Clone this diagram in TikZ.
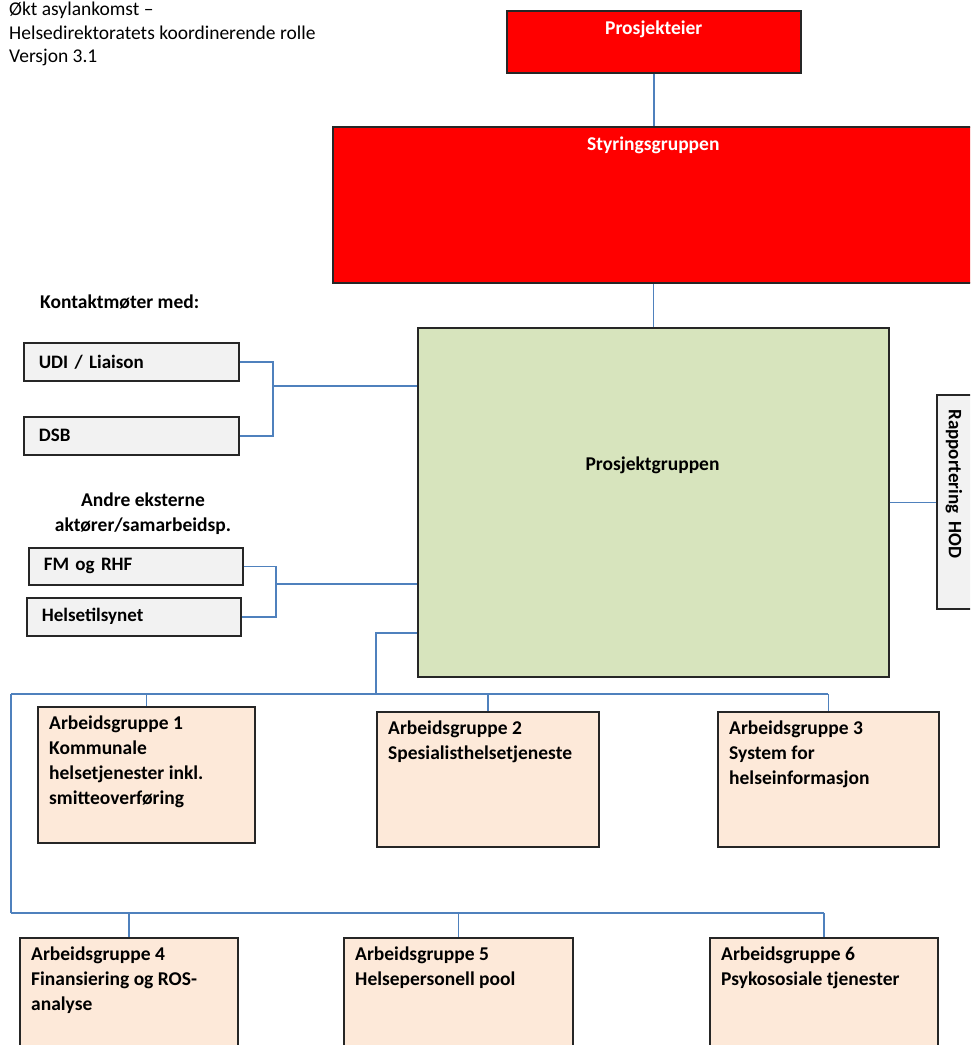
\documentclass[tikz,border=0pt]{standalone}
\usepackage{fontspec}
\setmainfont{Carlito}
\definecolor{ownerred}{HTML}{FF0000}
\definecolor{groupgreen}{HTML}{D7E4BD}
\definecolor{boxgray}{HTML}{F2F2F2}
\definecolor{agpeach}{HTML}{FDE9D9}
\definecolor{linkblue}{HTML}{4F81BD}
\tikzset{
    box/.style={rectangle, draw=black!85, line width=1.6pt, inner sep=0pt, anchor=north west},
    redbox/.style={box, fill=ownerred},
    greenbox/.style={box, fill=groupgreen},
    graybox/.style={box, fill=boxgray, align=left, inner xsep=15pt, font=\fontsize{19}{22}\selectfont\bfseries},
    agbox/.style={box, fill=agpeach},
    agtext/.style={anchor=north west, inner sep=0pt, align=left, xshift=12pt, yshift=-10pt, font=\fontsize{19.5}{24.8}\selectfont\bfseries},
    redtext/.style={anchor=north, inner sep=0pt, yshift=-11pt, text=white, font=\fontsize{19.5}{22}\selectfont\bfseries},
    link/.style={draw=linkblue, line width=1.4pt}
}
\begin{document}
\begin{tikzpicture}[x=1pt, y=-1pt]
    \useasboundingbox (0, 0) rectangle (970, 1045);
    \clip (0, 0) rectangle (970, 1045);

    % title
    \node [anchor=north west, inner sep=0pt, align=left, font=\fontsize{19.5}{23.5}\selectfont] at (9, 2) (title)
        {Økt asylankomst –\\Helsedirektoratets koordinerende rolle\\Versjon 3.1};

    % top of the project
    \node [redbox, minimum width=294, minimum height=62, label={[redtext]north:Prosjekteier}] at (506, 10) (pe) {};
    \node [redbox, minimum width=641, minimum height=156, label={[redtext]north:Styringsgruppen}] at (332, 126) (sg) {};
    \node [greenbox, minimum width=471, minimum height=349] at (417, 327) (pg) {};
    \node [font=\fontsize{19.5}{22}\selectfont\bfseries] at (652.5, 465) (pgtext) {Prosjektgruppen};

    % reporting
    \node [box, fill=boxgray, minimum width=40, minimum height=214] at (936, 394) (hod) {};
    \node [rotate=-90, inner sep=0pt, font=\fontsize{19}{22}\selectfont\bfseries] at (954, 484) (hodtext) {Rapportering\ \ HOD};

    % contacts
    \node [anchor=west, inner sep=0pt, font=\fontsize{19.5}{22}\selectfont\bfseries] at (40, 302) (kontakt) {Kontaktmøter med:};
    \node [graybox, text width=185, minimum height=38] at (23, 342) (udi) {UDI / Liaison};
    \node [graybox, text width=185, minimum height=38] at (23, 416) (dsb) {DSB};
    \node [align=center, inner sep=0pt, font=\fontsize{19.5}{25}\selectfont\bfseries] at (143, 514) (andre) {Andre eksterne\\aktører/samarbeidsp.};
    \node [graybox, text width=184, minimum height=37] at (28, 547) (fm) {FM og RHF};
    \node [graybox, text width=184, minimum height=38] at (26, 597) (htil) {Helsetilsynet};

    % working groups
    \node [agbox, minimum width=217, minimum height=136,
        label={[agtext]north west:Arbeidsgruppe 1\\Kommunale\\helsetjenester inkl.\\smitteoverføring}] at (37, 706) (ag1) {};
    \node [agbox, minimum width=222, minimum height=135,
        label={[agtext]north west:Arbeidsgruppe 2\\Spesialisthelsetjeneste}] at (376, 711) (ag2) {};
    \node [agbox, minimum width=221, minimum height=135,
        label={[agtext]north west:Arbeidsgruppe 3\\System for\\helseinformasjon}] at (717, 711) (ag3) {};
    \node [agbox, minimum width=218, minimum height=130,
        label={[agtext]north west:Arbeidsgruppe 4\\Finansiering og ROS-\\analyse}] at (19, 937) (ag4) {};
    \node [agbox, minimum width=229, minimum height=130,
        label={[agtext]north west:Arbeidsgruppe 5\\Helsepersonell pool}] at (343, 937) (ag5) {};
    \node [agbox, minimum width=228, minimum height=130,
        label={[agtext]north west:Arbeidsgruppe 6\\Psykososiale tjenester}] at (709, 937) (ag6) {};

    % junctions
    \coordinate (kjoin) at (273, 386);
    \coordinate (ejoin) at (276, 584);
    \coordinate (pgleft) at (417, 633);
    \coordinate (busdrop) at (376, 694);
    \coordinate (bus1l) at (11, 694);
    \coordinate (bus1r) at (828, 694);
    \coordinate (bus2l) at (11, 913);
    \coordinate (bus2r) at (824, 913);

    \path [link]
        (pe.south) edge (pe.south |- sg.north)
        (pg.north) edge (pg.north |- sg.south)
        (pg.east) edge (pg.east -| hod.west)
        (kjoin) edge (kjoin -| pg.west)
        (ejoin) edge (ejoin -| pg.west)
        (bus1l) edge (bus1r)
        (bus1l) edge (bus2l)
        (bus2l) edge (bus2r)
        (ag1.north) edge (ag1.north |- bus1l)
        (ag2.north) edge (ag2.north |- bus1l)
        (ag3.north) edge (ag3.north |- bus1l)
        (ag4.north) edge (ag4.north |- bus2l)
        (ag5.north) edge (ag5.north |- bus2l)
        (ag6.north) edge (ag6.north |- bus2l);
    \draw [link] (udi.east) -| (kjoin) |- (dsb.east);
    \draw [link] (fm.east) -| (ejoin) |- (htil.east);
    \draw [link] (pgleft) -| (busdrop);
\end{tikzpicture}
\end{document}
